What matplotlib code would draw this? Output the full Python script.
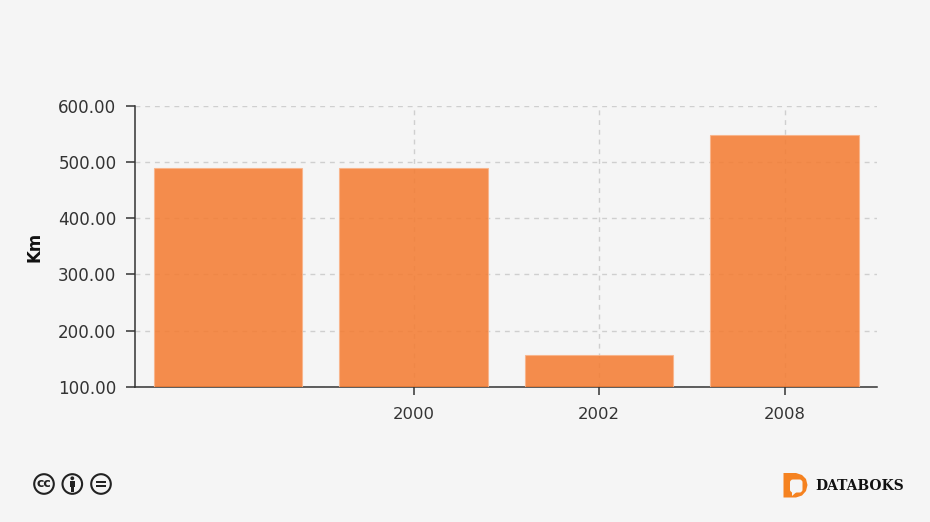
import matplotlib
matplotlib.use("Agg")
import matplotlib.pyplot as plt
from matplotlib.patches import Circle, Polygon, Rectangle, FancyBboxPatch

categories = ["", "2000", "2002", "2008"]
values = [490, 490, 156, 549]
yticks = [100, 200, 300, 400, 500, 600]
ylabel = "Km"
brand = "DATABOKS"

W, H = 930, 522
BG = "#f5f5f5"
DARK = "#333333"
fig = plt.figure(figsize=(W / 100, H / 100), dpi=100, facecolor=BG)
ax = fig.add_axes([135.3 / W, 1 - 386.7 / H, 742 / W, 280.5 / H], facecolor=BG)

xs = list(range(len(categories)))
ax.bar(xs, values, width=0.802, bottom=0, color="#f47d33", alpha=0.87,
       edgecolor="#f9b48a", linewidth=0.8, zorder=3)
ax.set_xlim(-0.5, 3.5)
ax.set_ylim(100, 600)
ax.set_yticks(yticks)
ax.set_yticklabels([f"{v:.2f}" for v in yticks], fontsize=12.1, color=DARK)
ax.set_xticks(xs[1:])
ax.set_xticklabels(categories[1:], fontsize=11.8, color=DARK)
ax.tick_params(axis="y", length=6.5, width=1.1, color=DARK, pad=7)
ax.tick_params(axis="x", length=5.5, width=1.1, color=DARK, pad=9)
ax.grid(True, color="#cfcfcf", linewidth=1, linestyle=(0, (3.5, 3.5)), zorder=1)
ax.set_axisbelow(True)
for s in ["top", "right"]:
    ax.spines[s].set_visible(False)
for s in ["left", "bottom"]:
    ax.spines[s].set_color(DARK)
    ax.spines[s].set_linewidth(1.1)
ax.set_ylabel(ylabel, fontsize=12, fontweight="bold", color="#111111")
ax.yaxis.set_label_coords((43 - 135.3) / 742, 0.5)

# Footer overlay in pixel coordinates
ov = fig.add_axes([0, 0, 1, 1], facecolor="none")
ov.set_xlim(0, W)
ov.set_ylim(H, 0)
ov.axis("off")
ICON = "#222222"
R = 9.8
for cx in (44, 72.3, 101):
    ov.add_patch(Circle((cx, 484), R, fc=BG, ec=ICON, lw=1.5))
ov.text(44, 483.5, "cc", ha="center", va="center", fontsize=9,
        fontweight="bold", color=ICON)
ov.add_patch(Circle((72.3, 478.3), 1.9, fc=ICON, ec="none"))
ov.add_patch(Rectangle((69.6, 481), 5.4, 5.5, fc=ICON, ec="none"))
ov.add_patch(Rectangle((70.8, 486), 3, 5.5, fc=ICON, ec="none"))
ov.add_patch(Rectangle((95.8, 480.6), 10.4, 2.4, fc=ICON, ec="none"))
ov.add_patch(Rectangle((95.8, 485), 10.4, 2.4, fc=ICON, ec="none"))

ORANGE = "#f58220"
ov.add_patch(Polygon([(783.5, 473), (796, 473), (802, 475), (806, 479), (807.5, 485),
                      (806, 491), (802, 495.5), (796, 497.5), (783.5, 497.5)],
                     closed=True, fc=ORANGE, ec="none"))
ov.add_patch(FancyBboxPatch((790, 479.5), 12.5, 13, boxstyle="round,pad=0,rounding_size=3",
                            fc=BG, ec="none"))
ov.add_patch(Polygon([(792, 492), (796.5, 492), (792, 496)], closed=True, fc=BG, ec="none"))
ov.text(815, 486, brand, ha="left", va="center", fontsize=10, fontweight="bold",
        family="DejaVu Serif", color="#111111")

fig.savefig("out.png", dpi=100, facecolor=BG)
